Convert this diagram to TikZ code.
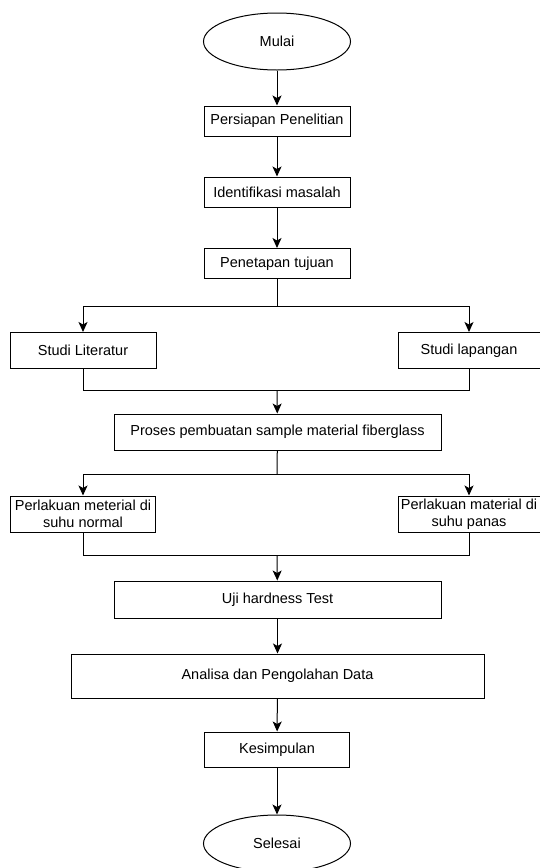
\documentclass[tikz,border=0pt]{standalone}
\usepackage{fontspec}
\setmainfont{Liberation Sans}
\usetikzlibrary{shapes.geometric,arrows.meta}

\begin{document}
\begin{tikzpicture}[x=1pt,y=-1pt,
		font=\fontsize{14.5}{17}\selectfont,
		line width=1pt,
		terminal/.style={draw,ellipse,inner sep=0pt,minimum width=147pt,minimum height=57pt},
		prosesbox/.style={draw,rectangle,inner sep=0pt,align=center,minimum height=#1},
		prosesbox/.default=30pt,
		arrow/.style={-{Stealth[length=10pt,width=9pt,inset=2.5pt]}}]
		\useasboundingbox (0,0) rectangle (540,868);
		% kolom utama
		\node[terminal] (mulai) at (277,41.5) {Mulai};
		\node[prosesbox,minimum width=146pt] (persiapan) at (277,121) {Persiapan Penelitian};
		\node[prosesbox,minimum width=146pt] (identifikasi) at (277,192) {Identifikasi masalah};
		\node[prosesbox,minimum width=146pt] (penetapan) at (277,263.5) {Penetapan tujuan};
		\node[prosesbox=36pt,minimum width=146pt] (literatur) at (83,350.5) {Studi Literatur};
		\node[prosesbox=36pt,minimum width=142pt] (lapangan) at (469,350.5) {Studi lapangan};
		\node[prosesbox=36pt,minimum width=327pt] (sample) at (277.5,432) {Proses pembuatan sample material fiberglass};
		\node[prosesbox=36pt,minimum width=145pt] (normal) at (83,514) {Perlakuan meterial di\\suhu normal};
		\node[prosesbox=36pt,minimum width=142pt] (panas) at (469,514) {Perlakuan material di\\suhu panas};
		\node[prosesbox=37pt,minimum width=327pt] (uji) at (277.5,599.5) {Uji hardness Test};
		\node[prosesbox=44pt,minimum width=413pt] (analisa) at (277.5,676) {Analisa dan Pengolahan Data};
		\node[prosesbox=35pt,minimum width=145pt] (kesimpulan) at (277,749.5) {Kesimpulan};
		\node[terminal] (selesai) at (277,843.5) {Selesai};
		
		\coordinate (cabang1) at (277,306.5);
		\coordinate (gabung1) at (277,390);
		\coordinate (cabang2) at (277,474);
		\coordinate (gabung2) at (277,555.5);
		
		\draw[arrow] (mulai) -- (persiapan);
		\draw[arrow] (persiapan) -- (identifikasi);
		\draw[arrow] (identifikasi) -- (penetapan);
		\draw (penetapan) -- (cabang1);
		\draw[arrow] (cabang1) -| (literatur.north);
		\draw[arrow] (cabang1) -| (lapangan.north);
		\draw (literatur.south) |- (gabung1);
		\draw (lapangan.south) |- (gabung1);
		\draw[arrow] (gabung1) -- (sample);
		\draw (sample) -- (cabang2);
		\draw[arrow] (cabang2) -| (normal.north);
		\draw[arrow] (cabang2) -| (panas.north);
		\draw (normal.south) |- (gabung2);
		\draw (panas.south) |- (gabung2);
		\draw[arrow] (gabung2) -- (uji);
		\draw[arrow] (uji) -- (analisa);
		\draw[arrow] (analisa) -- (kesimpulan);
		\draw[arrow] (kesimpulan) -- (selesai);
		
	\end{tikzpicture}
\end{document}
